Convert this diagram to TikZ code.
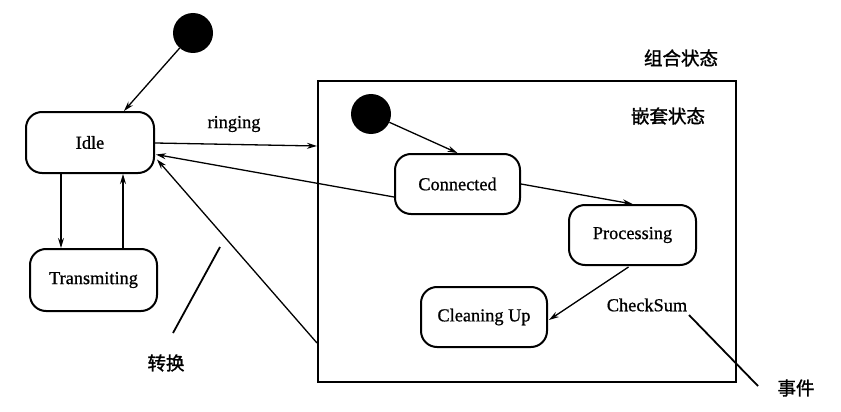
\documentclass[tikz,border=0pt]{standalone}
\usepackage{fontspec}
\setmainfont{Liberation Serif}[FakeBold=0.8]
\newfontfamily\cjk{Noto Sans CJK SC}[FakeBold=1.5]
\usetikzlibrary{arrows.meta,calc}
\tikzset{
  st/.style={draw,line width=2pt,rounded corners=16pt,minimum width=#1,minimum height=60pt,inner sep=0pt,font=\fontsize{18.3}{20}\selectfont},
  init/.style={circle,fill=black,minimum size=40pt,inner sep=0pt},
  tr/.style={line width=1.3pt,-{Stealth[length=10pt,width=6pt]}},
  ptr/.style={line width=1.8pt},
  lbl/.style={font=\fontsize{18.3}{20}\selectfont,inner sep=0pt},
  clbl/.style={font=\cjk\fontsize{18.5}{20}\selectfont,inner sep=0pt}
}
\begin{document}
\begin{tikzpicture}[x=1pt,y=-1pt]
\useasboundingbox (0,0) rectangle (841,412);
% composite
\node[draw,line width=2pt,minimum width=418pt,minimum height=301pt,inner sep=0pt] (comp) at (527,231.5) {};
\node[clbl] (lcomp) at (681,58) {组合状态};
\node[clbl] (lnest) at (668,116) {嵌套状态};
% states
\node[init] (i0) at (193,33) {};
\node[st=128pt,minimum height=61pt] (idle) at (90,142.5) {Idle};
\node[st=127pt,minimum height=62pt] (trans) at (93.5,280) {Transmiting};
\node[init] (i1) at (371,114) {};
\node[st=125pt] (conn) at (457.5,184) {Connected};
\node[st=127pt] (proc) at (632.5,235) {Processing};
\node[st=126pt] (clean) at (484,317) {Cleaning Up};
% labels
\node[lbl] (lring) at (234,124) {ringing};
\node[lbl] (lcs) at (647,305) {CheckSum};
\node[clbl] (ltr) at (166,363) {转换};
\node[clbl] (lev) at (796,388) {事件};
% transitions
\draw[tr] (i0) -- ($(idle.north)+(34,0)$);
\draw[tr] ($(idle.south)+(-29,0)$) coordinate (d1) -- (d1 |- trans.north);
\draw[tr] ($(trans.north)+(29.5,0)$) coordinate (u1) -- (u1 |- idle.south);
\draw[tr] ($(idle.east)+(0,0.5)$) -- ($(comp.north west)+(0,66)$);
\draw[tr] ($(conn.west)+(0,13)$) -- ($(idle.east)+(1,12)$);
\draw[tr] ($(comp.north west)+(0,263)$) -- ($(idle.east)+(2,17)$);
\draw[tr] (i1) -- (conn.north);
\draw[tr] (conn.east) -- (proc.north);
\draw[tr] ($(proc.south)+(-4,1)$) -- ($(clean.east)+(1,3)$);
% pointer lines
\coordinate (p1) at (173,333);
\coordinate (p2) at (220,247);
\draw[ptr] (p1) -- (p2);
\coordinate (q1) at (689,315);
\coordinate (q2) at (758,386);
\draw[ptr] (q1) -- (q2);
\end{tikzpicture}
\end{document}
